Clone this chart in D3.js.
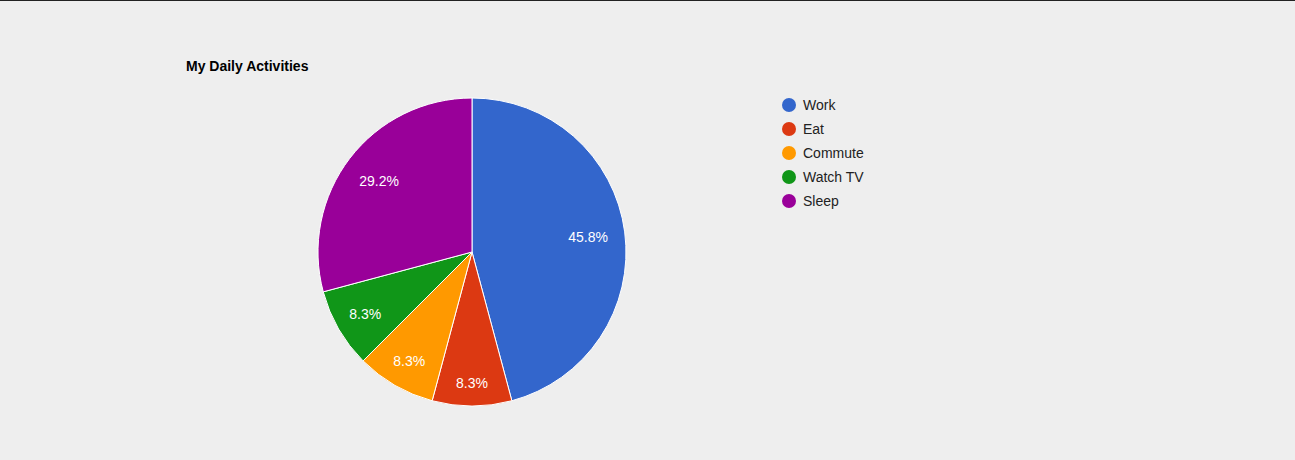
<!DOCTYPE html>
<html><head><meta charset="utf-8">
<script src="https://cdn.jsdelivr.net/npm/d3@7"></script>
<style>
html,body{margin:0;padding:0;background:#eeeeee;}
body{border-top:1px solid #222;box-sizing:border-box;}
svg{display:block;}
</style></head>
<body>
<script>
const categories = ["Work", "Eat", "Commute", "Watch TV", "Sleep"];
const hours = [11, 2, 2, 2, 7];
const colors = ["#3366cc", "#dc3912", "#ff9900", "#109618", "#990099"];
const title = "My Daily Activities";

const W = 1295, H = 459;
const svg = d3.select("body").append("svg").attr("width", W).attr("height", H)
  .style("font-family", "Arial, 'Liberation Sans', sans-serif");

const cx = 472, cy = 251, r = 154;
const color = d3.scaleOrdinal().domain(categories).range(colors);
const data = categories.map((c, i) => ({cat: c, v: hours[i]}));
const pie = d3.pie().value(d => d.v).sort(null);
const arcs = pie(data);
const total = d3.sum(hours);
const arc = d3.arc().innerRadius(0).outerRadius(r);

// narrow slices push their label further out so the text fits inside the wedge
function labelPos(d) {
  const span = d.endAngle - d.startAngle;
  const mid = (d.startAngle + d.endAngle) / 2;
  let k = span < 1 ? 0.8 : 0.76;
  if (span < 1) k += 0.05 * Math.max(0, -Math.cos(mid)) ** 8;
  const rr = r * k;
  return [rr * Math.sin(mid), -rr * Math.cos(mid)];
}

svg.append("text").attr("x", 186).attr("y", 70).text(title)
  .attr("font-size", 14).attr("font-weight", "bold").attr("fill", "#000");

const g = svg.append("g").attr("transform", `translate(${cx},${cy})`);
g.selectAll("path").data(arcs).join("path")
  .attr("d", arc).attr("fill", d => color(d.data.cat))
  .attr("stroke", "#ffffff").attr("stroke-width", 1);

const fmt = d3.format(".1f");
g.selectAll("text").data(arcs).join("text")
  .attr("transform", d => `translate(${labelPos(d)})`)
  .attr("text-anchor", "middle").attr("dy", "0.35em")
  .attr("font-size", 14).attr("fill", "#ffffff")
  .text(d => fmt(d.data.v / total * 100) + "%");

const leg = svg.append("g");
const items = leg.selectAll("g").data(categories).join("g")
  .attr("transform", (d, i) => `translate(789,${104 + i * 24})`);
items.append("circle").attr("r", 7).attr("fill", d => color(d));
items.append("text").attr("x", 14).attr("dy", "0.35em")
  .attr("font-size", 14).attr("fill", "#222222").text(d => d);
</script>
</body></html>
